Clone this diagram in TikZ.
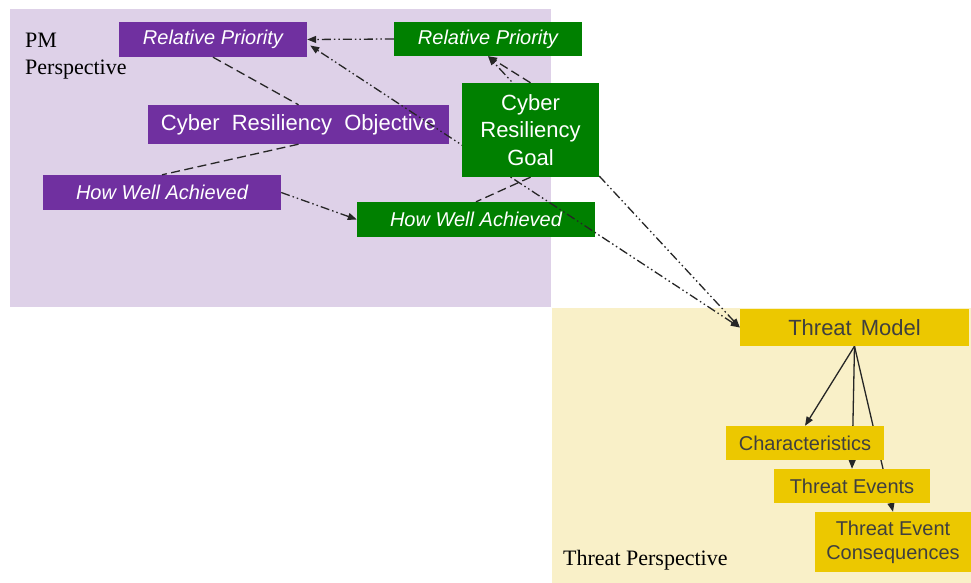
\documentclass[tikz,border=0pt]{standalone}
\usepackage{fontspec}
\setmainfont{Liberation Sans}
\newfontfamily\labelserif{Liberation Serif}
\usetikzlibrary{arrows.meta,calc}
\pgfdeclarelayer{panels}
\pgfdeclarelayer{behind}
\pgfsetlayers{panels,behind,main}

\definecolor{pmpanel}{HTML}{DED1E8}
\definecolor{threatpanel}{HTML}{F9F0C8}
\definecolor{pmpurple}{HTML}{7030A0}
\definecolor{goalgreen}{HTML}{008000}
\definecolor{threatyellow}{HTML}{ECC800}
\definecolor{threattext}{HTML}{3F3F3F}
\definecolor{linkgray}{HTML}{262626}

\begin{document}
\begin{tikzpicture}[x=1pt,y=-1pt,
  box/.style={rectangle, inner sep=0pt, text=white, align=center,
    font=\fontsize{20}{24}\selectfont},
  pmbox/.style={box, fill=pmpurple},
  goalbox/.style={box, fill=goalgreen},
  threatbox/.style={box, fill=threatyellow, text=threattext},
  bigtext/.style={font=\fontsize{22}{27.5}\selectfont},
  persp/.style={anchor=base west, inner sep=0pt, text=black,
    font=\labelserif\fontsize{22}{27}\selectfont, align=left},
  linkdash/.style={draw=linkgray, line width=1.3pt, dash pattern=on 9pt off 4.5pt},
  linkdot/.style={draw=linkgray, line width=1.3pt,
    dash pattern=on 9pt off 3pt on 1.5pt off 3pt on 1.5pt off 3pt},
  linksolid/.style={draw=linkgray, line width=1.3pt},
  headed/.style={-{Triangle[length=9pt,width=7pt]}},
  bothheaded/.style={{Triangle[length=9pt,width=7pt]}-{Triangle[length=9pt,width=7pt]}}
]
\useasboundingbox (0,0) rectangle (971,583);

% perspective panels
\begin{pgfonlayer}{panels}
  \fill[white] (0,0) rectangle (971,583);
  \fill[pmpanel] (10,9) rectangle (551,307);
  \fill[threatpanel] (552,308) rectangle (971,583);
\end{pgfonlayer}

\node[persp] (pmlabel) at (25,75) {PM\\Perspective};
\node[persp] (threatlabel) at (563,565) {Threat Perspective};

% PM and goal boxes
\node[pmbox, minimum width=188pt, minimum height=35pt] (prp) at (213,39.5) {\itshape Relative Priority};
\node[goalbox, minimum width=188pt, minimum height=34pt] (grp) at (488,39) {\itshape Relative Priority};
\node[pmbox, bigtext, minimum width=301pt, minimum height=39pt] (cro) at (298.5,124.5) {Cyber\ \ Resiliency\ \ Objective};
\node[pmbox, minimum width=238pt, minimum height=35pt] (hwap) at (162,192.5) {\itshape How Well Achieved};
\node[goalbox, minimum width=238pt, minimum height=35pt] (hwag) at (476,219.5) {\itshape How Well Achieved};

% threat boxes
\node[threatbox, bigtext, minimum width=229pt, minimum height=37pt] (tm) at (854.5,327.5) {Threat\hspace{9pt}Model};
\node[threatbox, minimum width=158pt, minimum height=34pt] (chr) at (805,443) {Characteristics};
\node[threatbox, minimum width=156pt, minimum height=34pt] (tev) at (852,486) {Threat Events};
\node[threatbox, minimum width=156pt, minimum height=60pt] (tec) at (893,542) {Threat Event\\Consequences};

% links inside the PM perspective
\draw[linkdash] (prp.south) -- (cro.north);
\draw[linkdash] (cro.south) -- (hwap.north);
\draw[linkdot, headed] (grp.west) -- (prp.east);
\draw[linkdot, headed] (hwap.east) -- (hwag.west);

% links from the threat model
\draw[linkdot, bothheaded] (tm.west) -- ($(prp.east)+(3,6)$);
\draw[linkdot, bothheaded] (tm.west) -- (grp.south);

% goal box sits above the threat links
\node[goalbox, bigtext, minimum width=137pt, minimum height=94pt] (crg) at (530.5,130) {Cyber\\Resiliency\\Goal};
\draw[linkdash, headed] (crg.north) -- (grp.south);
\draw[linkdash] (crg.south) -- (hwag.north);

% threat model breakdown, drawn behind the boxes
\begin{pgfonlayer}{behind}
  \draw[linksolid, headed] (tm.south) -- (chr.north);
  \draw[linksolid, headed] (tm.south) -- (tev.north);
  \draw[linksolid, headed] (tm.south) -- (tec.north);
\end{pgfonlayer}
\end{tikzpicture}
\end{document}
